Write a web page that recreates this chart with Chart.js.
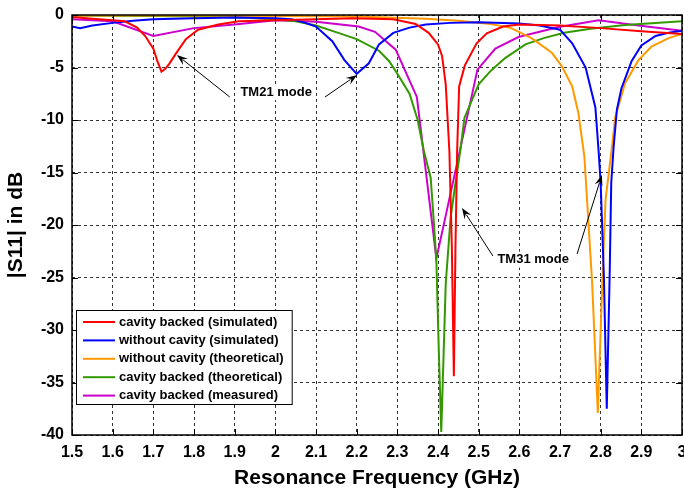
<!DOCTYPE html>
<html>
<head>
<meta charset="utf-8">
<script src="https://cdn.jsdelivr.net/npm/chart.js@4/dist/chart.umd.min.js"></script>
<style>
  html, body { margin: 0; padding: 0; background: #fff; overflow: hidden; }
  canvas { display: block; }
</style>
</head>
<body>
<canvas id="s11" width="684" height="493"></canvas>
<script>
// axis ticks
const freqTicks = [1.5, 1.6, 1.7, 1.8, 1.9, 2.0, 2.1, 2.2, 2.3, 2.4, 2.5, 2.6, 2.7, 2.8, 2.9, 3.0];
const freqTickLabels = ['1.5', '1.6', '1.7', '1.8', '1.9', '2', '2.1', '2.2', '2.3', '2.4', '2.5', '2.6', '2.7', '2.8', '2.9', '3'];
const dbTicks = [0, -5, -10, -15, -20, -25, -30, -35, -40];
const dbTickLabels = ['0', '-5', '-10', '-15', '-20', '-25', '-30', '-35', '-40'];

// cavity backed (simulated)
const cbSimFreq = [1.5, 1.55, 1.6, 1.63, 1.66, 1.68, 1.70, 1.71, 1.72, 1.73, 1.74, 1.755, 1.78, 1.81, 1.86, 1.91, 2.0, 2.1, 2.19, 2.29, 2.345, 2.377, 2.40, 2.41, 2.419, 2.428, 2.434, 2.439, 2.443, 2.447, 2.452, 2.466, 2.495, 2.52, 2.56, 2.6, 2.7, 2.8, 2.9, 3.0];
const cbSimDb = [-0.2, -0.35, -0.5, -0.6, -1.2, -2.0, -3.2, -4.4, -5.4, -5.1, -4.6, -3.7, -2.3, -1.4, -0.9, -0.6, -0.5, -0.4, -0.3, -0.4, -0.85, -1.7, -2.8, -3.9, -6.6, -13, -22, -34.4, -22, -13, -6.8, -4.8, -2.7, -1.75, -1.1, -0.9, -1.0, -1.25, -1.55, -1.8];

// without cavity (simulated)
const ncSimFreq = [1.5, 1.52, 1.55, 1.6, 1.65, 1.7, 1.8, 1.9, 2.0, 2.04, 2.07, 2.1, 2.14, 2.17, 2.2, 2.23, 2.255, 2.29, 2.33, 2.37, 2.43, 2.5, 2.6, 2.65, 2.7, 2.73, 2.763, 2.787, 2.795, 2.80, 2.808, 2.815, 2.822, 2.826, 2.832, 2.84, 2.851, 2.876, 2.9, 2.935, 2.967, 3.0];
const ncSimDb = [-1.1, -1.25, -1.0, -0.75, -0.55, -0.4, -0.3, -0.25, -0.3, -0.4, -0.7, -1.1, -2.5, -4.3, -5.6, -4.6, -2.8, -1.7, -1.2, -0.9, -0.75, -0.7, -0.8, -1.0, -1.4, -2.7, -5.0, -8.8, -13, -16, -25, -37.5, -25, -16, -12.5, -9, -7, -4.4, -2.9, -2.0, -1.7, -1.5];

// without cavity (theoretical)
const ncThFreq = [1.5, 1.8, 2.0, 2.2, 2.37, 2.45, 2.53, 2.58, 2.63, 2.68, 2.705, 2.73, 2.745, 2.76, 2.779, 2.793, 2.804, 2.812, 2.827, 2.836, 2.86, 2.893, 2.925, 2.967, 3.0];
const ncThDb = [-0.05, -0.05, -0.1, -0.15, -0.35, -0.55, -0.85, -1.25, -2.2, -3.6, -4.9, -6.8, -9.3, -13.5, -25.5, -37.9, -25.5, -17.6, -12.8, -9.7, -6.5, -4.3, -3.0, -2.2, -1.8];

// cavity backed (theoretical)
const cbThFreq = [1.5, 1.7, 1.9, 2.0, 2.05, 2.1, 2.155, 2.2, 2.255, 2.28, 2.30, 2.33, 2.35, 2.365, 2.382, 2.389, 2.396, 2.402, 2.408, 2.414, 2.419, 2.431, 2.443, 2.455, 2.465, 2.5, 2.53, 2.565, 2.615, 2.66, 2.71, 2.775, 2.86, 3.0];
const cbThDb = [-0.05, -0.1, -0.2, -0.4, -0.6, -1.0, -1.7, -2.3, -3.4, -4.4, -5.6, -7.5, -10, -12.9, -15.5, -19.3, -23.4, -32, -39.7, -32, -25.6, -19.3, -16, -12.9, -9.8, -6.6, -5.3, -4.1, -2.8, -2.2, -1.7, -1.3, -0.95, -0.6];

// cavity backed (measured)
const cbMeasFreq = [1.5, 1.6, 1.7, 1.8, 1.9, 2.0, 2.1, 2.205, 2.245, 2.296, 2.348, 2.396, 2.497, 2.541, 2.598, 2.697, 2.795, 2.893, 3.0];
const cbMeasDb = [-0.4, -0.6, -2.0, -1.25, -0.9, -0.5, -0.65, -1.1, -1.6, -3.3, -7.8, -23.2, -5.2, -3.2, -2.1, -1.15, -0.5, -1.0, -1.5];

// mode callouts (data units)
const modeNotes = [
    { text: 'TM21 mode', x: 2.002, y: -7.33 },
    { text: 'TM31 mode', x: 2.634, y: -23.3 }
];
const modeArrows = [
    { from: [1.888, -7.81], to: [1.758, -3.81] },
    { from: [2.122, -7.81], to: [2.201, -5.71] },
    { from: [2.535, -22.95], to: [2.459, -18.38] },
    { from: [2.742, -22.76], to: [2.803, -15.24] }
];

const FONT = "'Liberation Sans', Arial, Helvetica, sans-serif";
Chart.defaults.font.family = FONT;
Chart.defaults.color = '#000';

function pts(xs, ys) {
    return xs.map((x, i) => ({ x: x, y: ys[i] }));
}

function series(label, xs, ys, color) {
    return {
        label: label,
        data: pts(xs, ys),
        borderColor: color,
        backgroundColor: color,
        borderWidth: 2,
        pointRadius: 0,
        tension: 0,
        fill: false
    };
}

// frame, inner ticks, callouts and legend box
const decorations = {
    id: 'decorations',
    afterDatasetsDraw(chart) {
        const { ctx, chartArea: a, scales: { x, y } } = chart;
        ctx.save();
        ctx.setLineDash([]);

        // arrows
        ctx.strokeStyle = '#000';
        ctx.fillStyle = '#000';
        ctx.lineWidth = 1;
        modeArrows.forEach(ar => {
            const x0 = x.getPixelForValue(ar.from[0]), y0 = y.getPixelForValue(ar.from[1]);
            const x1 = x.getPixelForValue(ar.to[0]), y1 = y.getPixelForValue(ar.to[1]);
            const ang = Math.atan2(y1 - y0, x1 - x0);
            ctx.beginPath();
            ctx.moveTo(x0, y0);
            ctx.lineTo(x1 - 8 * Math.cos(ang), y1 - 8 * Math.sin(ang));
            ctx.stroke();
            ctx.beginPath();
            ctx.moveTo(x1, y1);
            ctx.lineTo(x1 - 11 * Math.cos(ang) + 4 * Math.sin(ang), y1 - 11 * Math.sin(ang) - 4 * Math.cos(ang));
            ctx.lineTo(x1 - 7 * Math.cos(ang), y1 - 7 * Math.sin(ang));
            ctx.lineTo(x1 - 11 * Math.cos(ang) - 4 * Math.sin(ang), y1 - 11 * Math.sin(ang) + 4 * Math.cos(ang));
            ctx.closePath();
            ctx.fill();
        });

        // callout text on white
        ctx.font = 'bold 13px ' + FONT;
        ctx.textAlign = 'center';
        ctx.textBaseline = 'middle';
        modeNotes.forEach(n => {
            const px = x.getPixelForValue(n.x), py = y.getPixelForValue(n.y);
            const w = ctx.measureText(n.text).width;
            ctx.fillStyle = '#fff';
            ctx.fillRect(px - w / 2 - 2, py - 8, w + 4, 16);
            ctx.fillStyle = '#000';
            ctx.fillText(n.text, px, py);
        });

        // frame
        ctx.strokeStyle = '#000';
        ctx.lineWidth = 1.5;
        ctx.strokeRect(a.left, a.top, a.right - a.left, a.bottom - a.top);

        // inner ticks on all sides
        ctx.lineWidth = 1;
        ctx.beginPath();
        freqTicks.forEach(v => {
            const px = Math.round(x.getPixelForValue(v)) + 0.5;
            ctx.moveTo(px, a.bottom); ctx.lineTo(px, a.bottom - 6);
            ctx.moveTo(px, a.top); ctx.lineTo(px, a.top + 6);
        });
        dbTicks.forEach(v => {
            const py = Math.round(y.getPixelForValue(v)) + 0.5;
            ctx.moveTo(a.left, py); ctx.lineTo(a.left + 6, py);
            ctx.moveTo(a.right, py); ctx.lineTo(a.right - 6, py);
        });
        ctx.stroke();

        // legend box
        const ds = chart.data.datasets;
        const lx = a.left + 4, rowH = 18.4;
        const boxH = ds.length * rowH + 2;
        const ly = a.bottom - 31 - boxH;
        ctx.font = 'bold 13px ' + FONT;
        let tw = 0;
        ds.forEach(d => { tw = Math.max(tw, ctx.measureText(d.label).width); });
        const boxW = 43 + tw + 8;
        ctx.fillStyle = '#fff';
        ctx.fillRect(lx, ly, boxW, boxH);
        ctx.strokeStyle = '#000';
        ctx.lineWidth = 1;
        ctx.strokeRect(lx + 0.5, ly + 0.5, boxW, boxH);
        ctx.textAlign = 'left';
        ctx.textBaseline = 'middle';
        ds.forEach((d, i) => {
            const ry = ly + 12 + i * rowH;
            ctx.strokeStyle = d.borderColor;
            ctx.lineWidth = 2;
            ctx.beginPath();
            ctx.moveTo(lx + 7, ry); ctx.lineTo(lx + 39, ry);
            ctx.stroke();
            ctx.fillStyle = '#000';
            ctx.fillText(d.label, lx + 43, ry);
        });
        ctx.restore();
    }
};

const ctx = document.getElementById('s11').getContext('2d');
const s11Chart = new Chart(ctx, {
    type: 'line',
    data: {
        datasets: [
            series('cavity backed (simulated)', cbSimFreq, cbSimDb, '#ff0000'),
            series('without cavity (simulated)', ncSimFreq, ncSimDb, '#0000ff'),
            series('without cavity (theoretical)', ncThFreq, ncThDb, '#ff9900'),
            series('cavity backed (theoretical)', cbThFreq, cbThDb, '#339900'),
            series('cavity backed (measured)', cbMeasFreq, cbMeasDb, '#cc00cc')
        ]
    },
    options: {
        responsive: false,
        animation: false,
        layout: { padding: { top: 15, right: 2, left: 0, bottom: 0 } },
        plugins: {
            legend: { display: false },
            tooltip: { enabled: false }
        },
        scales: {
            x: {
                type: 'linear',
                min: 1.5,
                max: 3.0,
                afterBuildTicks: scale => { scale.ticks = freqTicks.map(v => ({ value: v })); },
                afterFit: scale => { scale.height = 58; scale.paddingLeft = 0; scale.paddingRight = 0; },
                ticks: {
                    autoSkip: false,
                    maxRotation: 0,
                    padding: 8,
                    font: { size: 16, weight: 'bold' },
                    callback: (v, i) => freqTickLabels[i]
                },
                grid: { color: '#333', lineWidth: 1, drawTicks: false, borderDash: [3, 3] },
                border: { display: false, dash: [3, 3] },
                title: {
                    display: true,
                    text: 'Resonance Frequency (GHz)',
                    font: { size: 21, weight: 'bold' },
                    padding: { top: 0, bottom: 2 }
                }
            },
            y: {
                type: 'linear',
                min: -40,
                max: 0,
                afterBuildTicks: scale => { scale.ticks = dbTicks.map(v => ({ value: v })); },
                afterFit: scale => { scale.width = 72; scale.paddingTop = 0; scale.paddingBottom = 0; },
                ticks: {
                    autoSkip: false,
                    padding: 8,
                    font: { size: 16, weight: 'bold' },
                    callback: (v, i) => dbTickLabels[i]
                },
                grid: { color: '#333', lineWidth: 1, drawTicks: false, borderDash: [3, 3] },
                border: { display: false, dash: [3, 3] },
                title: {
                    display: true,
                    text: '|S11| in dB',
                    font: { size: 21, weight: 'bold' },
                    padding: { top: 4, bottom: 0 }
                }
            }
        }
    },
    plugins: [decorations]
});
</script>
</body>
</html>
